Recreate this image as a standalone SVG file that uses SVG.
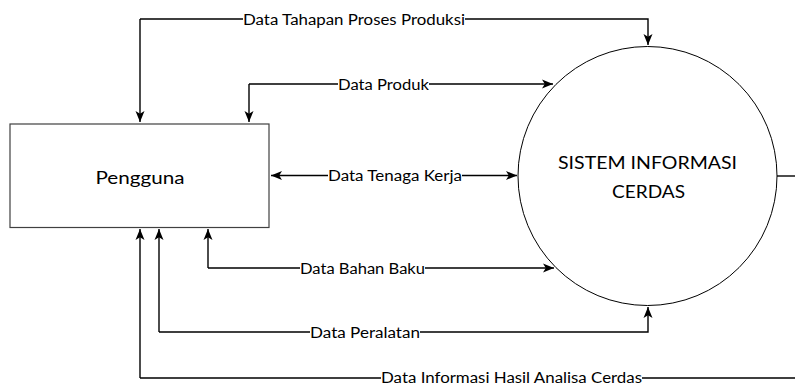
<svg xmlns="http://www.w3.org/2000/svg" width="795" height="385" viewBox="0 0 795 385">
<style>
.ln{fill:none;stroke:#000;stroke-width:1.4}
.lbl{font-family:Lato,"Open Sans","Liberation Sans",sans-serif;font-size:14.5px;fill:#000;dominant-baseline:central;text-anchor:start}
.big{font-family:Lato,"Open Sans","Liberation Sans",sans-serif;font-size:16.5px;fill:#000;dominant-baseline:central;text-anchor:start}
</style>
<defs>
<marker id="ah" markerUnits="userSpaceOnUse" markerWidth="12" markerHeight="10" refX="11" refY="5" orient="auto-start-reverse" viewBox="0 0 12 10">
<path d="M0,0.5 L11,5 L0,9.5 L2.8,5 Z" fill="#000"/>
</marker>
</defs>
<rect width="795" height="385" fill="#fff"/>
<g id="pengguna">
<rect x="10" y="124" width="259" height="103.5" fill="#fff" stroke="#404040" stroke-width="1.2"/>
<text class="big" x="95.5" y="177.5" textLength="89" lengthAdjust="spacingAndGlyphs">Pengguna</text>
</g>
<g id="sistem">
<circle cx="647.5" cy="176" r="129.5" fill="#fff" stroke="#000" stroke-width="1"/>
<text class="big" x="558" y="163" textLength="179" lengthAdjust="spacingAndGlyphs">SISTEM INFORMASI</text>
<text class="big" x="612" y="192" textLength="73" lengthAdjust="spacingAndGlyphs">CERDAS</text>
</g>
<g id="connectors">
<path class="ln" d="M140,19 V122" marker-end="url(#ah)"/>
<path class="ln" d="M140,19 H243 M465,19 H648 V45" marker-end="url(#ah)"/>
<path class="ln" d="M249,84 V122" marker-end="url(#ah)"/>
<path class="ln" d="M249,84 H338 M429,84 H553" marker-end="url(#ah)"/>
<path class="ln" d="M328,175.5 H271" marker-end="url(#ah)"/>
<path class="ln" d="M462,175.5 H517" marker-end="url(#ah)"/>
<path class="ln" d="M208,268 V229" marker-end="url(#ah)"/>
<path class="ln" d="M208,268 H300 M425,268 H554" marker-end="url(#ah)"/>
<path class="ln" d="M159,332 V229" marker-end="url(#ah)"/>
<path class="ln" d="M159,332 H310 M420,332 H648 V307" marker-end="url(#ah)"/>
<path class="ln" d="M140,378 V229" marker-end="url(#ah)"/>
<path class="ln" d="M140,378 H381 M642,378 H795"/>
<path class="ln" d="M777,176 H795"/>
<text class="lbl" x="243" y="19" textLength="222" lengthAdjust="spacingAndGlyphs">Data Tahapan Proses Produksi</text>
<text class="lbl" x="338" y="84" textLength="91" lengthAdjust="spacingAndGlyphs">Data Produk</text>
<text class="lbl" x="328" y="175.5" textLength="134" lengthAdjust="spacingAndGlyphs">Data Tenaga Kerja</text>
<text class="lbl" x="300" y="268" textLength="125" lengthAdjust="spacingAndGlyphs">Data Bahan Baku</text>
<text class="lbl" x="310" y="332" textLength="110" lengthAdjust="spacingAndGlyphs">Data Peralatan</text>
<text class="lbl" x="381" y="377" textLength="261" lengthAdjust="spacingAndGlyphs">Data Informasi Hasil Analisa Cerdas</text>
</g>
</svg>
